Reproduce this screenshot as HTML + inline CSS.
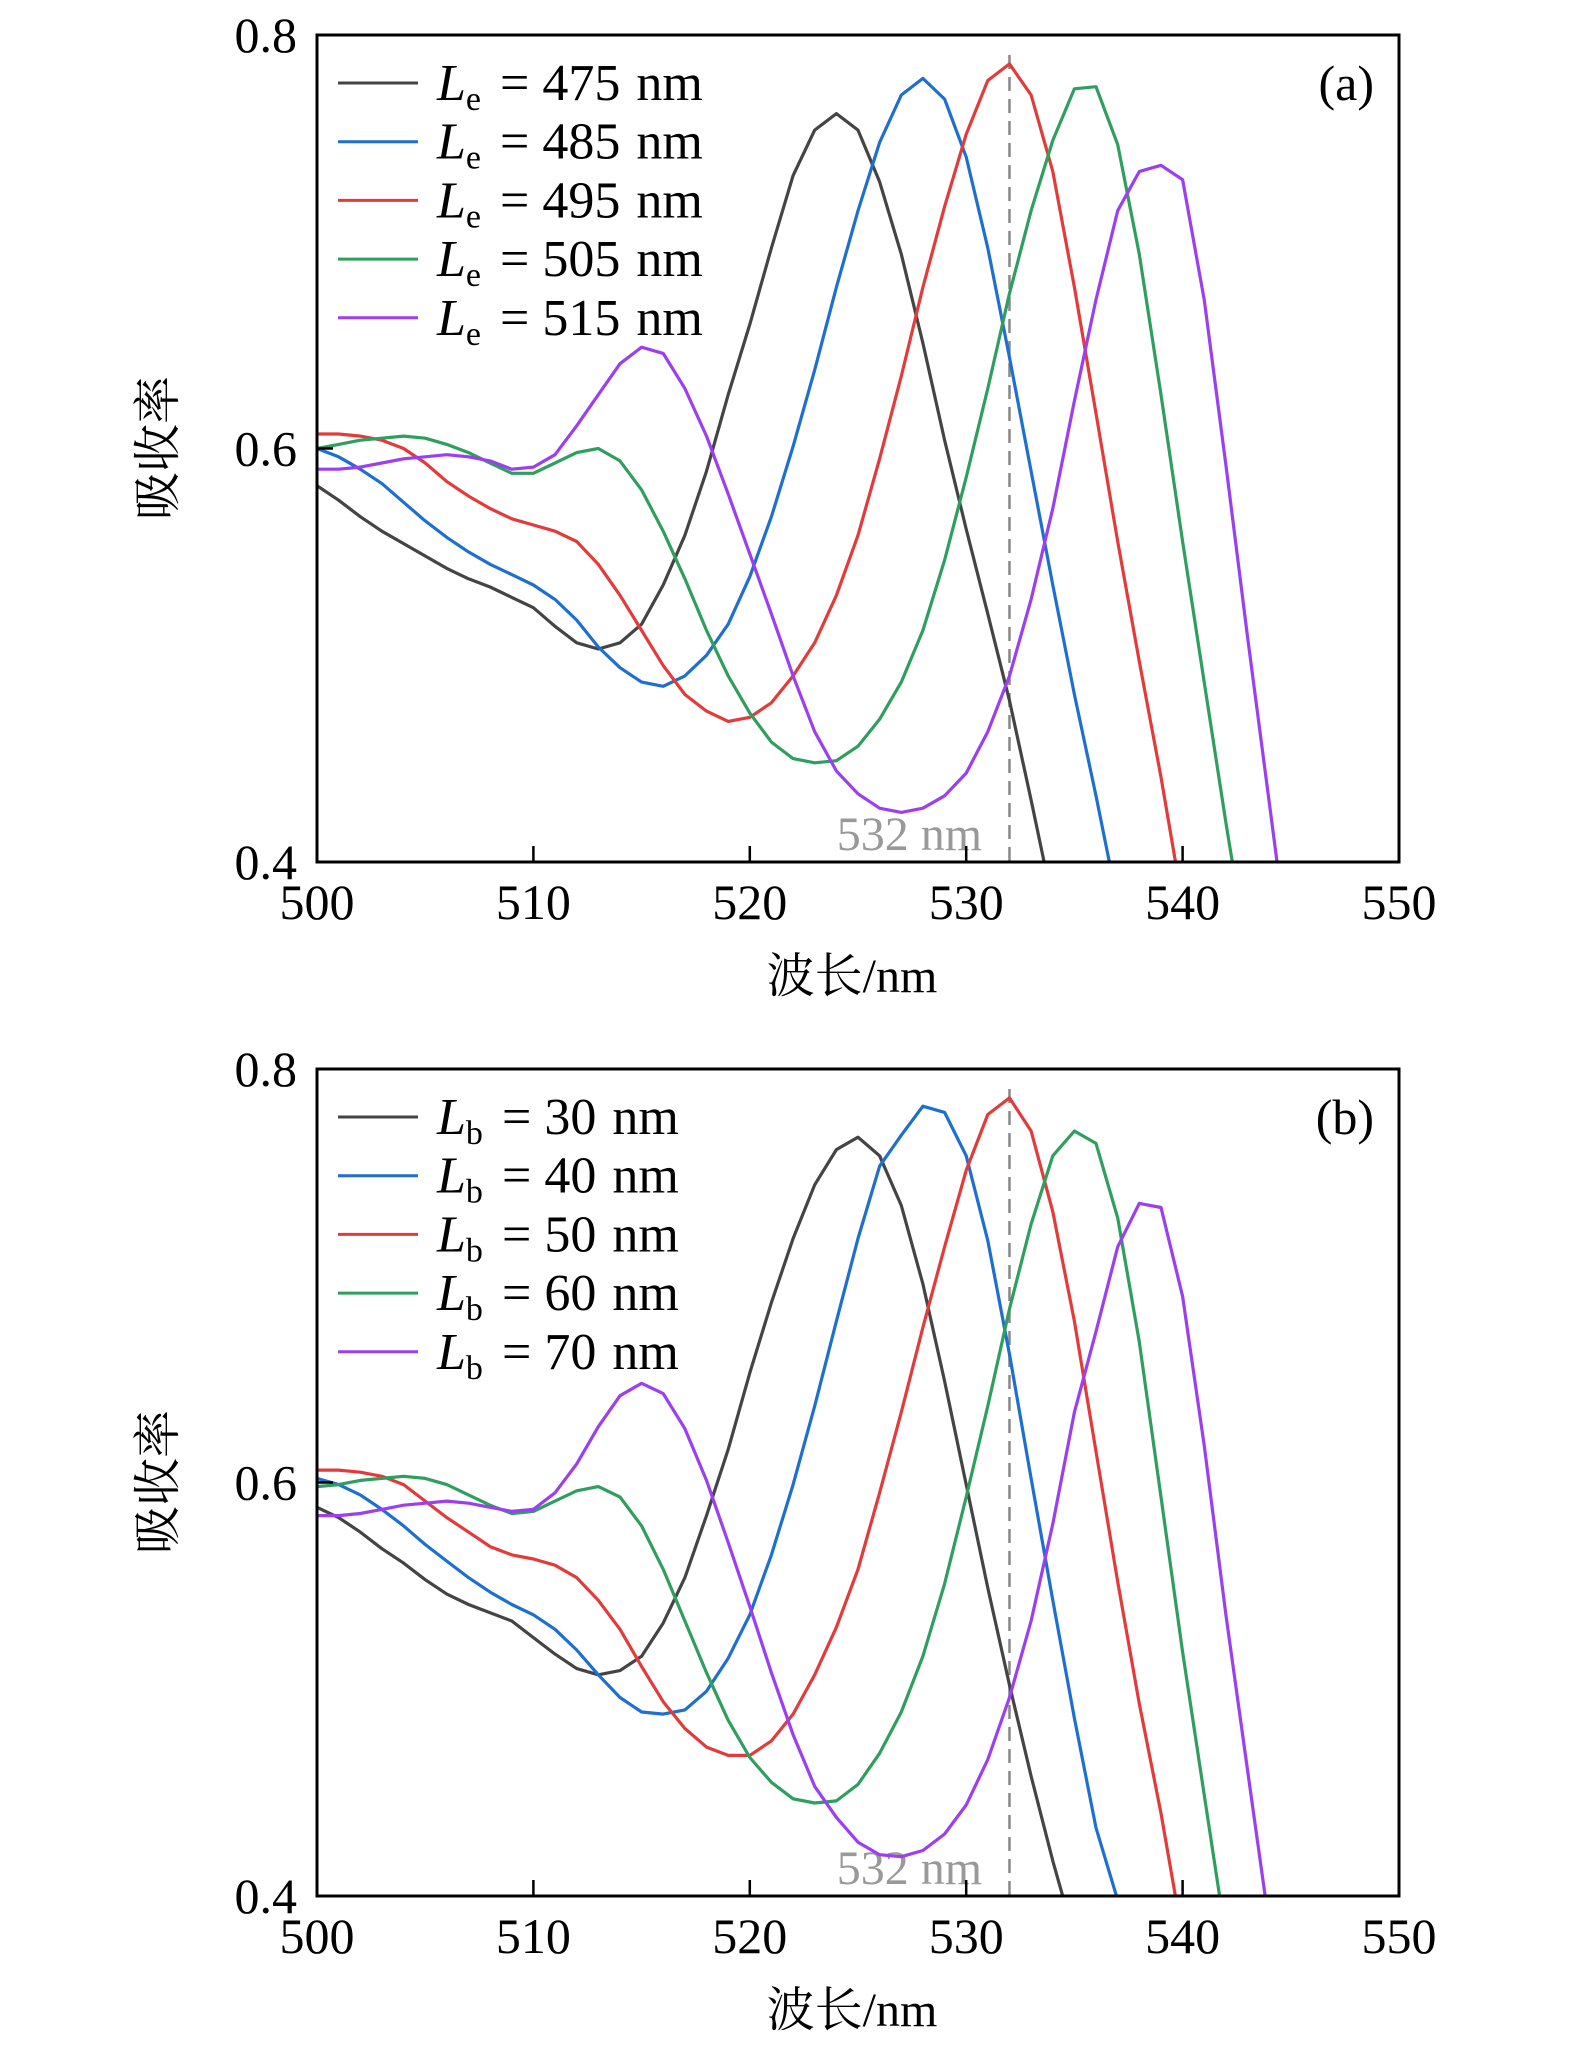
<!DOCTYPE html>
<html><head><meta charset="utf-8"><style>
html,body{margin:0;padding:0;background:#fff;}
svg{display:block;}
text{font-family:"Liberation Serif","Noto Serif CJK SC",serif;}
</style></head><body>
<svg id="fig" width="1575" height="2047" viewBox="0 0 1575 2047" xmlns="http://www.w3.org/2000/svg"></svg>
<script>
const xTicks=[500,510,520,530,540,550];
const yTicks=[0.4,0.6,0.8];
const xs=[500,501,502,503,504,505,506,507,508,509,510,511,512,513,514,515,516,517,518,519,520,521,522,523,524,525,526,527,528,529,530,531,532,533,534,535,536,537,538,539,540,541,542,543,544,545];
const labelsA=["475","485","495","505","515"];
const labelsB=["30","40","50","60","70"];
const a475=[0.582,0.575,0.567,0.560,0.554,0.548,0.542,0.537,0.533,0.528,0.523,0.514,0.506,0.503,0.506,0.515,0.534,0.558,0.589,0.626,0.660,0.697,0.732,0.754,0.762,0.754,0.729,0.694,0.651,0.604,0.561,0.520,0.478,0.430,0.380];
const a485=[0.600,0.596,0.590,0.583,0.574,0.565,0.557,0.550,0.544,0.539,0.534,0.527,0.517,0.504,0.494,0.487,0.485,0.490,0.500,0.515,0.538,0.567,0.601,0.638,0.678,0.715,0.748,0.771,0.779,0.769,0.741,0.697,0.644,0.589,0.534,0.481,0.432,0.380];
const a495=[0.607,0.607,0.606,0.604,0.600,0.593,0.584,0.577,0.571,0.566,0.563,0.560,0.555,0.544,0.529,0.512,0.495,0.481,0.473,0.468,0.470,0.477,0.490,0.506,0.529,0.558,0.595,0.635,0.678,0.717,0.752,0.778,0.786,0.771,0.734,0.678,0.617,0.555,0.497,0.441,0.380];
const a505=[0.600,0.602,0.604,0.605,0.606,0.605,0.602,0.598,0.593,0.588,0.588,0.593,0.598,0.600,0.594,0.580,0.560,0.537,0.512,0.490,0.472,0.458,0.450,0.448,0.449,0.456,0.469,0.487,0.512,0.546,0.586,0.629,0.675,0.715,0.749,0.774,0.775,0.747,0.694,0.626,0.555,0.487,0.419,0.355];
const a515=[0.590,0.590,0.591,0.593,0.595,0.596,0.597,0.596,0.594,0.590,0.591,0.597,0.611,0.626,0.641,0.649,0.646,0.629,0.606,0.578,0.549,0.520,0.490,0.463,0.444,0.433,0.426,0.424,0.426,0.432,0.443,0.463,0.490,0.527,0.571,0.623,0.672,0.715,0.734,0.737,0.730,0.672,0.592,0.509,0.429,0.349];
const b30=[0.588,0.583,0.576,0.568,0.561,0.553,0.546,0.541,0.537,0.533,0.525,0.517,0.510,0.507,0.509,0.516,0.532,0.554,0.584,0.616,0.653,0.687,0.718,0.744,0.761,0.767,0.758,0.734,0.696,0.649,0.599,0.549,0.502,0.458,0.417,0.380];
const b40=[0.602,0.599,0.594,0.587,0.579,0.570,0.562,0.554,0.547,0.541,0.536,0.529,0.519,0.507,0.496,0.489,0.488,0.490,0.499,0.515,0.536,0.565,0.599,0.637,0.678,0.718,0.753,0.768,0.782,0.779,0.758,0.717,0.662,0.602,0.543,0.486,0.433,0.398,0.355];
const b50=[0.606,0.606,0.605,0.603,0.599,0.591,0.583,0.576,0.569,0.565,0.563,0.560,0.554,0.543,0.529,0.511,0.494,0.481,0.472,0.468,0.468,0.475,0.488,0.507,0.530,0.558,0.595,0.634,0.675,0.714,0.751,0.778,0.786,0.770,0.731,0.678,0.615,0.552,0.493,0.440,0.380];
const b60=[0.598,0.599,0.601,0.602,0.603,0.602,0.599,0.594,0.589,0.585,0.586,0.591,0.596,0.598,0.593,0.579,0.558,0.533,0.508,0.485,0.467,0.455,0.447,0.445,0.446,0.454,0.469,0.489,0.516,0.551,0.593,0.637,0.684,0.725,0.758,0.770,0.764,0.728,0.668,0.593,0.518,0.449,0.380];
const b70=[0.584,0.584,0.585,0.587,0.589,0.590,0.591,0.590,0.588,0.586,0.587,0.595,0.609,0.627,0.642,0.648,0.643,0.626,0.601,0.571,0.540,0.508,0.478,0.453,0.438,0.426,0.420,0.419,0.422,0.430,0.444,0.466,0.496,0.533,0.580,0.634,0.673,0.714,0.735,0.733,0.690,0.618,0.536,0.461,0.386];
const colors=["#444444","#1e6fd0","#e33b3b","#2f9e5e","#9b3ff0"];
const NS="http://www.w3.org/2000/svg";
const svg=document.getElementById('fig');
function mk(tag,attrs,parent){const e=document.createElementNS(NS,tag);for(const k in attrs)e.setAttribute(k,attrs[k]);(parent||svg).appendChild(e);return e;}
function panel(id,top,series,labels,sub,tag){
  const L=317,R=1399,T=top,B=top+827;
  const X=v=>L+(v-500)/50*(R-L);
  const Y=v=>B-(v-0.4)/0.4*(B-T);
  const g=mk('g',{});
  
  
  const cp=mk('clipPath',{id:'clip'+id},g);
  mk('rect',{x:L,y:T,width:R-L,height:B-T},cp);
  const dl=mk('line',{x1:X(532),x2:X(532),y1:T+20,y2:B,stroke:'#888',"stroke-width":2.5,"stroke-dasharray":"14,8"},g);
  
  
  const mt=mk('text',{x:X(532)-100,y:B-12,"font-size":48,fill:'#999',"text-anchor":'middle'},g);
  mt.textContent='532 nm';
  
  
  series.forEach((s,i)=>{
    const pts=s.map((v,j)=>X(xs[j]).toFixed(1)+','+Y(v).toFixed(1)).join(' ');
    const p=mk('polyline',{points:pts,fill:'none',stroke:colors[i],"stroke-width":3.2,"stroke-linejoin":'round',"clip-path":'url(#clip'+id+')'},g);
    
    
  });
  const fr=mk('rect',{x:L,y:T,width:R-L,height:B-T,fill:'none',stroke:'#000',"stroke-width":3},g);
  
  
  xTicks.forEach(t=>{
    mk('line',{x1:X(t),x2:X(t),y1:B,y2:B-16,stroke:'#000',"stroke-width":2.5},g);
    const tx=mk('text',{x:X(t),y:B+57,"font-size":50,"text-anchor":'middle'},g);
    tx.textContent=t;
    
    
  });
  yTicks.forEach(t=>{
    mk('line',{x1:L,x2:L+16,y1:Y(t),y2:Y(t),stroke:'#000',"stroke-width":2.5},g);
    const ty=mk('text',{x:297,y:Y(t)+17,"font-size":50,"text-anchor":'end'},g);
    ty.textContent=t.toFixed(1);
    
    
  });
  const xt=mk('text',{x:852,y:B+130,"font-size":48,"text-anchor":'middle'},g);
  xt.textContent='波长/nm';
  
  
  const yc=T+413;
  const yt=mk('text',{x:158,y:yc,"font-size":48,"text-anchor":'middle',transform:'rotate(-90 158 '+yc+')',dy:16},g);
  yt.textContent='吸收率';
  
  
  labels.forEach((lb,i)=>{
    const y=T+48+i*58.7;
    const lg=mk('g',{},g);
    
    
    mk('line',{x1:338,x2:418,y1:y,y2:y,stroke:colors[i],"stroke-width":3},lg);
    const t=mk('text',{x:437,y:y+17,"font-size":52},lg);
    t.innerHTML='<tspan font-style="italic">L</tspan><tspan font-size="34" dy="10">'+sub+'</tspan><tspan dy="-10" x="'+(sub==='e'?500:502)+'">= '+lb+'</tspan><tspan dx="16">nm</tspan>';
  });
  const pl=mk('text',{x:1374,y:T+65,"font-size":50,"text-anchor":'end'},g);
  pl.textContent='('+id+')';
  
  
}
panel('a',35,[a475,a485,a495,a505,a515],labelsA,'e','le');
panel('b',1069,[b30,b40,b50,b60,b70],labelsB,'b','lb');
</script>
</body></html>
